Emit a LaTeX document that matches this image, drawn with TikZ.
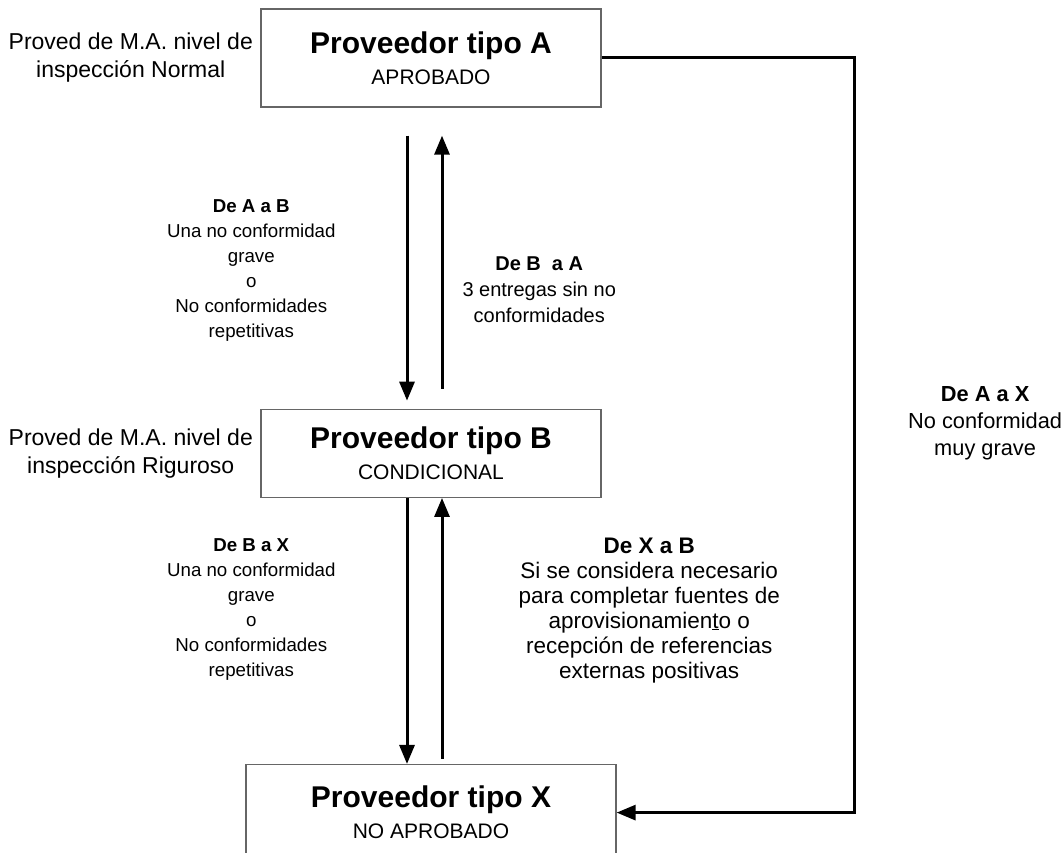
\documentclass[tikz,border=0pt]{standalone}
\usepackage{fontspec}
\setmainfont{Liberation Sans}
\usetikzlibrary{positioning,arrows.meta}

\begin{document}
\begin{tikzpicture}[%
    x=1pt,
    y=-1pt,
    ->,
    >={Triangle[length=19pt,width=15pt]},
    line width=3pt,
    node distance=6pt,
    provbox/.style={%
      rectangle,
      draw=black!60,
      line width=1.3pt,
      minimum width=340pt,
      minimum height=98pt,
      align=center,
      font=\fontsize{21}{26}\selectfont
    },
    rule/.style={%
      align=center,
      inner sep=0pt,
      font=\fontsize{18.7}{25}\selectfont
    }
  ]
    \useasboundingbox (0,0) rectangle (1062,853);

    \node[provbox] (A) at (431,58)
      {{\bfseries\fontsize{30}{34}\selectfont Proveedor tipo A}\\[5pt]APROBADO};
    \node[provbox, minimum height=88pt] (B) [node distance=301pt, below=of A]
      {{\bfseries\fontsize{30}{34}\selectfont Proveedor tipo B}\\[5pt]CONDICIONAL};
    \node[provbox, minimum width=370pt, minimum height=96pt] (X) [node distance=266pt, below=of B]
      {{\bfseries\fontsize{30}{34}\selectfont Proveedor tipo X}\\[5pt]NO APROBADO};

    \node[rule, font=\fontsize{23}{28}\selectfont] (nivelA) [left=of A]
      {Proved de M.A. nivel de\\inspección Normal};
    \node[rule, font=\fontsize{23}{28}\selectfont] (nivelB) [left=of B]
      {Proved de M.A. nivel de\\inspección Riguroso};

    \draw ([xshift=-24pt,yshift=-28pt]A.south) -- node[rule, pos=0.51, left=70pt] (ab)
      {\textbf{De A a B}\\Una no conformidad\\grave\\o\\No conformidades\\repetitivas}
      ([xshift=-24pt,yshift=8pt]B.north);
    \draw ([xshift=11pt,yshift=20pt]B.north) -- node[rule, pos=0.39, right=19pt,
      font=\fontsize{20}{26}\selectfont] (ba)
      {\textbf{De B\ \ a A}\\3 entregas sin no\\conformidades}
      ([xshift=11pt,yshift=-28pt]A.south);

    \draw ([xshift=-24pt]B.south) -- node[rule, pos=0.42, left=70pt] (bx)
      {\textbf{De B a X}\\Una no conformidad\\grave\\o\\No conformidades\\repetitivas}
      ([xshift=-24pt]X.north);
    \draw ([xshift=11pt,yshift=5pt]X.north) -- node[rule, pos=0.57, right=75pt,
      font=\fontsize{22.5}{25}\selectfont] (xb)
      {\textbf{De X a B}\\Si se considera necesario\\para completar fuentes de\\aprovisionamien\underline{t}o o\\recepción de referencias\\externas positivas}
      ([xshift=11pt]B.south);

    \draw (A.east) -- ++(253,0) |- node[rule, pos=0.242, right=52pt,
      font=\fontsize{21.8}{27}\selectfont] (ax)
      {\textbf{De A a X}\\No conformidad\\muy grave}
      (X.east);
  \end{tikzpicture}
\end{document}
